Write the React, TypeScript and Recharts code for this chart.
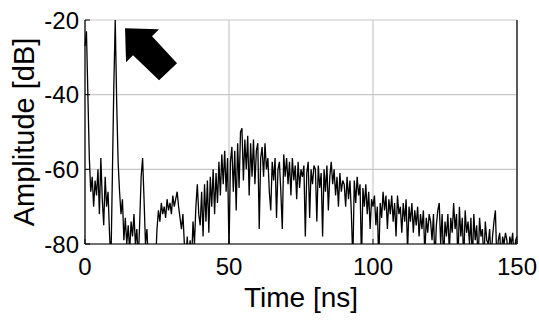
import { CartesianGrid, Line, LineChart, ReferenceDot, XAxis, YAxis } from "recharts"

const TIME_STEP = 0.5
const amp0to10 = [
  -27, -23, -40, -57, -66, -62, -70, -63, -67, -60,
  -72, -57, -68, -75, -62, -70, -66, -77, -85, -62,
]
const amp10to20 = [
  -38, -20, -42, -58, -66, -72, -68, -79, -73, -80,
  -75, -82, -74, -78, -72, -80, -76, -85, -74, -62,
]
const amp20to30 = [
  -57, -68, -80, -76, -85, -85, -85, -85, -85, -85,
  -76, -71, -74, -69, -72, -70, -73, -68, -71, -69,
]
const amp30to40 = [
  -72, -67, -70, -68, -66, -70, -73, -76, -72, -80,
  -85, -78, -85, -79, -85, -74, -80, -70, -64, -72,
]
const amp40to50 = [
  -75, -66, -78, -64, -74, -63, -77, -62, -70, -60,
  -72, -61, -69, -58, -67, -56, -64, -55, -66, -57,
]
const amp50to60 = [
  -82, -58, -54, -66, -55, -71, -53, -65, -50, -49,
  -63, -52, -60, -51, -67, -53, -62, -52, -64, -55,
]
const amp60to70 = [
  -53, -76, -57, -54, -62, -53, -60, -57, -66, -71,
  -58, -63, -57, -73, -60, -58, -66, -76, -56, -62,
]
const amp70to80 = [
  -57, -64, -58, -67, -57, -63, -59, -68, -58, -65,
  -60, -62, -59, -78, -61, -58, -73, -60, -64, -59,
]
const amp80to90 = [
  -60, -74, -59, -65, -61, -78, -60, -66, -59, -71,
  -62, -58, -64, -60, -67, -62, -70, -61, -66, -63,
]
const amp90to100 = [
  -64, -70, -62, -68, -63, -72, -85, -63, -69, -62,
  -67, -64, -85, -65, -70, -64, -72, -66, -76, -68,
]
const amp100to110 = [
  -70, -67, -75, -70, -85, -69, -73, -66, -71, -67,
  -76, -68, -72, -67, -74, -69, -78, -67, -72, -70,
]
const amp110to120 = [
  -77, -69, -74, -68, -82, -70, -74, -69, -77, -71,
  -75, -70, -78, -72, -76, -71, -83, -73, -77, -72,
]
const amp120to130 = [
  -74, -79, -72, -85, -75, -71, -69, -80, -72, -85,
  -74, -78, -72, -82, -73, -77, -69, -76, -72, -85,
]
const amp130to140 = [
  -70, -78, -73, -85, -71, -77, -74, -80, -73, -85,
  -72, -79, -75, -85, -73, -78, -76, -85, -74, -79,
]
const amp140to150 = [
  -80, -76, -85, -78, -74, -71, -85, -79, -77, -85,
  -78, -80, -77, -79, -85, -78, -80, -77, -85, -79, -78,
]

const xTicks = [0, 50, 100, 150]
const yTicks = [-80, -60, -40, -20]

// arrow annotation tip (data coords)
const arrowTip = { t: 13.9, amp: -22.2 }

const amplitude = [
  ...amp0to10, ...amp10to20, ...amp20to30, ...amp30to40, ...amp40to50,
  ...amp50to60, ...amp60to70, ...amp70to80, ...amp80to90, ...amp90to100,
  ...amp100to110, ...amp110to120, ...amp120to130, ...amp130to140, ...amp140to150,
]
const data = amplitude.map((a, i) => ({ t: i * TIME_STEP, amp: a }))

const FONT = "'Liberation Sans', Arial, sans-serif"
const TICK_LEN = 5
const X_GAP = 14
const Y_GAP = 6

function BottomTick({ x, y, payload }: any) {
  return (
    <g>
      <line x1={x} x2={x} y1={y - X_GAP} y2={y - X_GAP - TICK_LEN} stroke="#000" />
      <text x={x} y={y} dy="0.71em" textAnchor="middle" fontSize={24} fontFamily={FONT} fill="#000">
        {payload.value}
      </text>
    </g>
  )
}

function LeftTick({ x, y, payload }: any) {
  return (
    <g>
      <line x1={x + Y_GAP} x2={x + Y_GAP + TICK_LEN} y1={y} y2={y} stroke="#000" />
      <text x={x} y={y} dy="0.355em" textAnchor="end" fontSize={24} fontFamily={FONT} fill="#000">
        {payload.value}
      </text>
    </g>
  )
}

function TopTick({ x, y }: any) {
  return <line x1={x} x2={x} y1={y} y2={y + TICK_LEN} stroke="#000" />
}

function RightTick({ x, y }: any) {
  return <line x1={x} x2={x - TICK_LEN} y1={y} y2={y} stroke="#000" />
}

function Arrow({ cx, cy }: any) {
  const pts = [
    [0, 0], [34, 1], [27, 8], [52, 35], [34, 52], [8, 27], [1, 34],
  ]
  return <polygon points={pts.map(([dx, dy]) => `${cx + dx},${cy + dy}`).join(" ")} fill="#000" />
}

export default function App() {
  return (
    <div style={{ position: "absolute", left: 0, top: 0, background: "#fff" }}>
      <LineChart
        width={539}
        height={320}
        data={data}
        margin={{ top: 20, right: 0, left: 0, bottom: 0 }}
        style={{ fontFamily: FONT }}
      >
        <CartesianGrid stroke="#c8c8c8" strokeWidth={1.2} />
        <Line
          type="linear"
          dataKey="amp"
          stroke="#000"
          strokeWidth={1.3}
          dot={false}
          isAnimationActive={false}
        />
        <XAxis
          dataKey="t"
          type="number"
          domain={[0, 150]}
          ticks={xTicks}
          height={76}
          tickSize={0}
          tickMargin={X_GAP}
          tick={<BottomTick />}
          axisLine={{ stroke: "#000", strokeWidth: 1.2 }}
          label={({ viewBox }: any) => (
            <text
              x={viewBox.x + viewBox.width / 2}
              y={viewBox.y + viewBox.height - 13}
              textAnchor="middle"
              fontSize={28}
              fontFamily={FONT}
              fill="#000"
            >
              Time [ns]
            </text>
          )}
        />
        <XAxis
          xAxisId="top"
          orientation="top"
          type="number"
          domain={[0, 150]}
          ticks={xTicks}
          height={0}
          tickSize={0}
          tick={<TopTick />}
          axisLine={{ stroke: "#000", strokeWidth: 1.2 }}
        />
        <YAxis
          type="number"
          domain={[-80, -20]}
          ticks={yTicks}
          allowDataOverflow
          width={85}
          tickSize={0}
          tickMargin={Y_GAP}
          tick={<LeftTick />}
          axisLine={{ stroke: "#000", strokeWidth: 1.2 }}
          label={({ viewBox }: any) => {
            const cx = viewBox.x + 24
            const cy = viewBox.y + viewBox.height / 2
            return (
              <text
                x={cx}
                y={cy}
                transform={`rotate(-90, ${cx}, ${cy})`}
                textAnchor="middle"
                dominantBaseline="central"
                fontSize={29}
                fontFamily={FONT}
                fill="#000"
              >
                Amplitude [dB]
              </text>
            )
          }}
        />
        <YAxis
          yAxisId="right"
          orientation="right"
          type="number"
          domain={[-80, -20]}
          ticks={yTicks}
          width={22}
          tickSize={0}
          tick={<RightTick />}
          axisLine={{ stroke: "#000", strokeWidth: 1.2 }}
        />
        <ReferenceDot x={arrowTip.t} y={arrowTip.amp} shape={<Arrow />} />
      </LineChart>
    </div>
  )
}
